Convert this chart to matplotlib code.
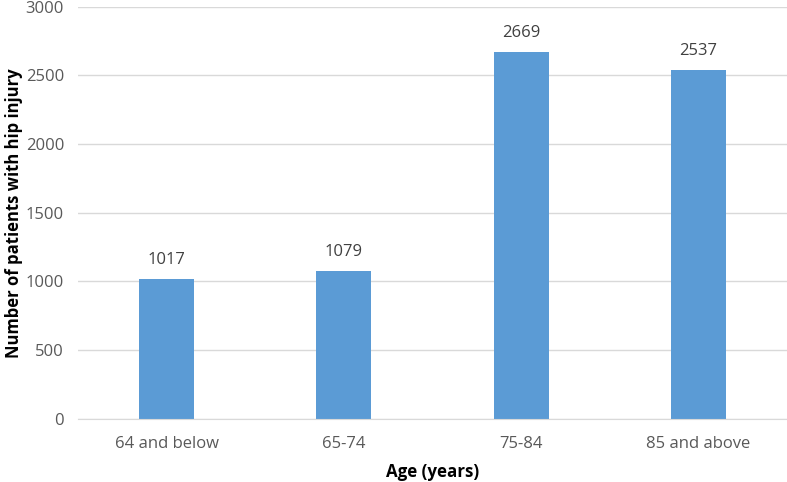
import matplotlib
matplotlib.use("Agg")
import matplotlib.pyplot as plt
import numpy as np

categories = ["64 and below", "65-74", "75-84", "85 and above"]
patients = [1017, 1079, 2669, 2537]
yticks = [0, 500, 1000, 1500, 2000, 2500, 3000]

BAR_COLOR = "#5B9BD5"
TEXT_GRAY = "#595959"

plt.rcParams["font.family"] = ["Open Sans", "DejaVu Sans"]


def main():
    fig = plt.figure(figsize=(7.87, 4.82), dpi=100)
    ax = fig.add_axes([0.099, 0.131, 0.901, 0.855])

    x = np.arange(len(categories))
    bars = ax.bar(x, patients, width=0.31, color=BAR_COLOR, zorder=3)

    for rect, val in zip(bars, patients):
        ax.text(rect.get_x() + rect.get_width() / 2, val + 80, str(val),
                ha="center", va="bottom", fontsize=12, color="#404040")

    ax.set_xlim(-0.5, len(categories) - 0.5)
    ax.set_ylim(0, 3000)
    ax.set_yticks(yticks)
    ax.set_xticks(x)
    ax.set_xticklabels(categories)

    ax.grid(axis="y", color="#D9D9D9", linewidth=1, zorder=0)
    for side in ["left", "right", "top"]:
        ax.spines[side].set_visible(False)
    ax.spines["bottom"].set_color("#D9D9D9")
    ax.spines["bottom"].set_zorder(4)
    ax.tick_params(axis="both", length=0, labelsize=12, labelcolor=TEXT_GRAY)
    ax.tick_params(axis="x", pad=12)
    ax.tick_params(axis="y", pad=10)

    ax.set_xlabel("Age (years)", fontsize=12.2, fontweight="bold", labelpad=8)
    ax.set_ylabel("Number of patients with hip injury", fontsize=12,
                  fontweight="bold", labelpad=2)

    fig.savefig("out.png", dpi=100)


if __name__ == '__main__':
    main()
